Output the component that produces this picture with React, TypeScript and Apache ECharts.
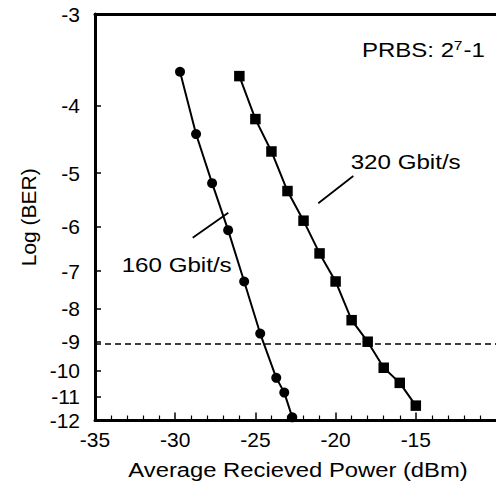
import React, { useEffect, useRef } from "react";
import * as echarts from "echarts";

// Data
const power160 = [-29.7, -28.7, -27.7, -26.7, -25.7, -24.7, -23.7, -23.2, -22.7];
const logBer160 = [-3.59, -4.39, -5.17, -6.07, -7.26, -8.74, -10.26, -10.83, -11.86];
const power320 = [-26, -25, -24, -23, -22, -21, -20, -19, -18, -17, -16, -15];
const logBer320 = [-3.64, -4.18, -4.65, -5.31, -5.875, -6.58, -7.26, -8.33, -9.0, -9.89, -10.45, -11.36];
const yTicks = [-3, -4, -5, -6, -7, -8, -9, -10, -11, -12];
const xLabels = [-35, -30, -25, -20, -15];
const thresholdLogBer = -9;

const FONT = '"Liberation Sans", Arial, Helvetica, sans-serif';

// BER axis scale: log10(Q), with BER = 0.5 * erfc(Q / sqrt(2))
function erfc(x: number): number {
  const z = Math.abs(x);
  const t = 1 / (1 + 0.5 * z);
  const r =
    t *
    Math.exp(
      -z * z - 1.26551223 +
        t * (1.00002368 + t * (0.37409196 + t * (0.09678418 + t * (-0.18628806 +
        t * (0.27886807 + t * (-1.13520398 + t * (1.48851587 + t * (-0.82215223 + t * 0.17087277))))))))
    );
  return x >= 0 ? r : 2 - r;
}
function logBerOfQ(q: number): number {
  return Math.log10(0.5 * erfc(q / Math.SQRT2));
}
function qOfLogBer(e: number): number {
  let lo = 0.01, hi = 12;
  for (let i = 0; i < 80; i++) {
    const mid = (lo + hi) / 2;
    if (logBerOfQ(mid) > e) lo = mid; else hi = mid;
  }
  return (lo + hi) / 2;
}
const toAxis = (e: number) => Math.log10(qOfLogBer(e));

export default function App() {
  const ref = useRef<HTMLDivElement>(null);
  useEffect(() => {
    if (!ref.current) return;
    const chart = echarts.init(ref.current, null, { renderer: "svg" });
    const tickPos = yTicks.map(toAxis);
    const fmtY = (v: number) => {
      let best = yTicks[0], d = Infinity;
      tickPos.forEach((p, i) => { const dd = Math.abs(p - v); if (dd < d) { d = dd; best = yTicks[i]; } });
      return String(best);
    };
    const black = "#000";
    const labelStyle = { color: black, fontSize: 21, fontFamily: FONT };
    chart.setOption({
      animation: false,
      backgroundColor: "#fff",
      grid: { left: 95, top: 14, width: 439.5, height: 406.5, containLabel: false },
      xAxis: [
        {
          type: "value", min: -35, max: -10, interval: 5, position: "bottom",
          axisLine: { show: true, onZero: false, lineStyle: { color: black, width: 3 } },
          axisTick: { show: true, inside: true, length: 8, customValues: xLabels, lineStyle: { color: black, width: 1.5 } },
          minorTick: { show: true, splitNumber: 5, length: 5, lineStyle: { color: black, width: 1.2 } },
          axisLabel: { ...labelStyle, margin: 8, customValues: xLabels },
          splitLine: { show: false },
        },
        {
          type: "value", min: -35, max: -10, position: "top",
          axisLine: { show: true, onZero: false, lineStyle: { color: black, width: 3 } },
          axisTick: { show: false }, axisLabel: { show: false }, splitLine: { show: false },
        },
      ],
      yAxis: {
        type: "value", inverse: true, min: toAxis(-3), max: toAxis(-12),
        axisLine: { show: true, onZero: false, lineStyle: { color: black, width: 3 } },
        axisTick: { show: true, inside: true, length: 6, customValues: tickPos.slice(1, -1), lineStyle: { color: black, width: 1.5 } },
        axisLabel: { ...labelStyle, margin: 15, customValues: tickPos, formatter: fmtY },
        splitLine: { show: false },
        name: "Log (BER)", nameLocation: "middle", nameGap: 56, nameRotate: 90,
        nameTextStyle: { color: black, fontSize: 21, fontFamily: FONT },
      },
      series: [
        {
          name: "160 Gbit/s", type: "line",
          data: power160.map((p, i) => [p, toAxis(logBer160[i])]),
          symbol: "circle", symbolSize: 10,
          itemStyle: { color: black }, lineStyle: { color: black, width: 2 },
        },
        {
          name: "320 Gbit/s", type: "line",
          data: power320.map((p, i) => [p, toAxis(logBer320[i])]),
          symbol: "rect", symbolSize: 10.5,
          itemStyle: { color: black }, lineStyle: { color: black, width: 2 },
          markLine: {
            silent: true, symbol: ["none", "none"], label: { show: false },
            lineStyle: { color: black, width: 1.6, type: [6, 4] },
            data: [{ yAxis: toAxis(thresholdLogBer) }],
          },
        },
      ],
      graphic: [
        {
          type: "text", x: 298, y: 470, scaleX: 1.19,
          style: { text: "Average Recieved Power (dBm)", fontSize: 20, fontFamily: FONT, fill: black, align: "center", verticalAlign: "middle" },
        },
        {
          type: "group", x: 362, y: 50, scaleX: 1.2,
          children: [
            { type: "text", x: 0, y: 0, style: { text: "PRBS: 2", fontSize: 20, fontFamily: FONT, fill: black, align: "left", verticalAlign: "middle" } },
            { type: "text", x: 76.5, y: -5, style: { text: "7", fontSize: 13, fontFamily: FONT, fill: black, align: "left", verticalAlign: "middle" } },
            { type: "text", x: 84.5, y: 0, style: { text: "-1", fontSize: 20, fontFamily: FONT, fill: black, align: "left", verticalAlign: "middle" } },
          ],
        },
        {
          type: "text", x: 121.7, y: 265, scaleX: 1.15,
          style: { text: "160 Gbit/s", fontSize: 21, fontFamily: FONT, fill: black, align: "left", verticalAlign: "middle" },
        },
        {
          type: "text", x: 350.7, y: 161.7, scaleX: 1.15,
          style: { text: "320 Gbit/s", fontSize: 21, fontFamily: FONT, fill: black, align: "left", verticalAlign: "middle" },
        },
        { type: "line", shape: { x1: 192.7, y1: 237.7, x2: 228.3, y2: 212.7 }, style: { stroke: black, lineWidth: 1.8 } },
        { type: "line", shape: { x1: 353.3, y1: 176, x2: 318.3, y2: 203.3 }, style: { stroke: black, lineWidth: 1.8 } },
      ],
    });
    return () => chart.dispose();
  }, []);
  return <div ref={ref} style={{ position: "fixed", left: 0, top: 0, width: 496, height: 486 }} />;
}
